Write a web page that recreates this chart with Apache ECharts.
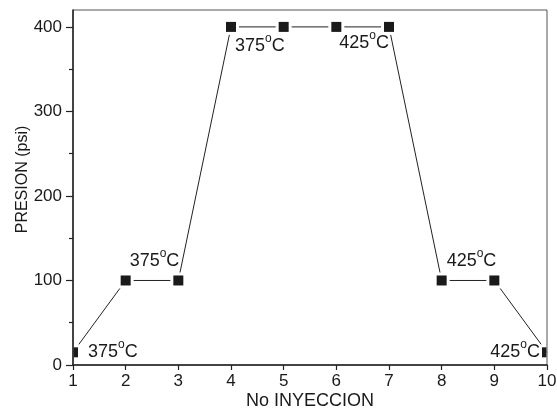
<!DOCTYPE html>
<html>
<head>
<meta charset="utf-8">
<script src="https://cdn.jsdelivr.net/npm/echarts@6/dist/echarts.min.js"></script>
<style>
  html, body { margin: 0; padding: 0; background: #fff; }
  #chart { width: 557px; height: 408px; }
</style>
</head>
<body>
<div id="chart"></div>
<script>
// Injection number vs. pressure, with the process temperature noted at selected points
const injections = [1, 2, 3, 4, 5, 6, 7, 8, 9, 10];
const pressures = [15, 100, 100, 400, 400, 400, 400, 100, 100, 15];
const tempLabels = ['375', '', '375', '375', '', '', '425', '425', '', '425'];
const yTicks = [0, 100, 200, 300, 400];
const yMinorTicks = [50, 150, 250, 350];

// Where each temperature note sits relative to its point (pixels)
const notePlacement = {
  0: { dx: 15, dy: 0, align: 'left' },
  2: { dx: 1, dy: -19, align: 'right' },
  3: { dx: 4, dy: 19, align: 'left' },
  6: { dx: 0, dy: 16, align: 'right' },
  7: { dx: 5, dy: -19, align: 'left' },
  9: { dx: -7, dy: 0, align: 'right' }
};

const FONT = '"Liberation Sans", Arial, Helvetica, sans-serif';
const INK = '#1a1a1a';
const MARK = 10;
const HALO = 16;

const points = injections.map((x, i) => [x, pressures[i], tempLabels[i]]);

// Rectangle clipped to the plotting area
function clippedRect(cx, cy, size, area) {
  const x0 = Math.max(cx - size / 2, area.x + 0.5);
  const x1 = Math.min(cx + size / 2, area.x + area.width - 0.5);
  const y0 = Math.max(cy - size / 2, area.y + 0.5);
  const y1 = Math.min(cy + size / 2, area.y + area.height - 0.5);
  return { x: x0, y: y0, width: Math.max(0, x1 - x0), height: Math.max(0, y1 - y0) };
}

function renderMarker(params, api) {
  const idx = params.dataIndex;
  const p = api.coord([api.value(0), api.value(1)]);
  const area = params.coordSys;
  const children = [
    { type: 'rect', shape: clippedRect(p[0], p[1], HALO, area), style: { fill: '#fff' } },
    { type: 'rect', shape: clippedRect(p[0], p[1], MARK, area), style: { fill: INK } }
  ];
  const t = tempLabels[idx];
  const place = notePlacement[idx];
  if (t && place) {
    children.push({
      type: 'text',
      x: p[0] + place.dx,
      y: p[1] + place.dy,
      style: {
        text: t + '{o|o}C',
        fill: INK,
        fontSize: 18,
        lineHeight: 27,
        fontFamily: FONT,
        align: place.align,
        verticalAlign: 'middle',
        rich: {
          o: { fontSize: 12, lineHeight: 12, fontFamily: FONT, fill: INK, verticalAlign: 'top' }
        }
      }
    });
  }
  return { type: 'group', children: children };
}

const gridBox = { left: 73, right: 10, top: 10, bottom: 43, outerBoundsMode: 'none', containLabel: false };

const chart = echarts.init(document.getElementById('chart'), null, { renderer: 'canvas' });
chart.setOption({
  animation: false,
  backgroundColor: '#fff',
  grid: [
    Object.assign({ show: true, borderColor: '#555', borderWidth: 1, z: 5 }, gridBox),
    Object.assign({ show: false }, gridBox)
  ],
  xAxis: [
    {
      type: 'value', gridIndex: 0, min: 1, max: 10, interval: 1, z: 6,
      axisLine: { show: true, lineStyle: { color: '#222', width: 1.5 } },
      axisTick: { show: true, inside: false, length: 5, lineStyle: { color: '#222', width: 1.2 } },
      axisLabel: { fontSize: 17, fontFamily: FONT, color: INK, margin: 8 },
      splitLine: { show: false },
      name: 'No INYECCION', nameLocation: 'middle', nameGap: 27, nameMoveOverlap: false,
      nameTextStyle: { fontSize: 18, fontFamily: FONT, color: INK }
    },
    {
      type: 'value', gridIndex: 1, min: 1, max: 10, show: false
    }
  ],
  yAxis: [
    {
      type: 'value', gridIndex: 0, min: 0, max: 420, interval: 100, z: 6,
      axisLine: { show: true, lineStyle: { color: '#222', width: 1.5 } },
      axisTick: { show: true, inside: false, length: 7, customValues: yTicks, lineStyle: { color: '#222', width: 1.2 } },
      axisLabel: { fontSize: 17, fontFamily: FONT, color: INK, margin: 11, customValues: yTicks },
      splitLine: { show: false },
      name: 'PRESION (psi)', nameLocation: 'middle', nameGap: 42, nameMoveOverlap: false,
      nameTextStyle: { fontSize: 16, fontFamily: FONT, color: INK, padding: [0, 0, 0, 16] }
    },
    {
      type: 'value', gridIndex: 1, min: 0, max: 420, interval: 50, z: 6,
      axisLine: { show: false },
      axisTick: { show: true, inside: false, length: 4, customValues: yMinorTicks, lineStyle: { color: '#222', width: 1.2 } },
      axisLabel: { show: false },
      splitLine: { show: false }
    }
  ],
  series: [
    {
      type: 'line',
      xAxisIndex: 0, yAxisIndex: 0,
      data: points.map(d => [d[0], d[1]]),
      symbol: 'none',
      lineStyle: { color: '#222', width: 1 },
      z: 2
    },
    {
      type: 'custom',
      xAxisIndex: 0, yAxisIndex: 0,
      data: points,
      encode: { x: 0, y: 1 },
      renderItem: renderMarker,
      z: 3
    }
  ]
});
</script>
</body>
</html>
